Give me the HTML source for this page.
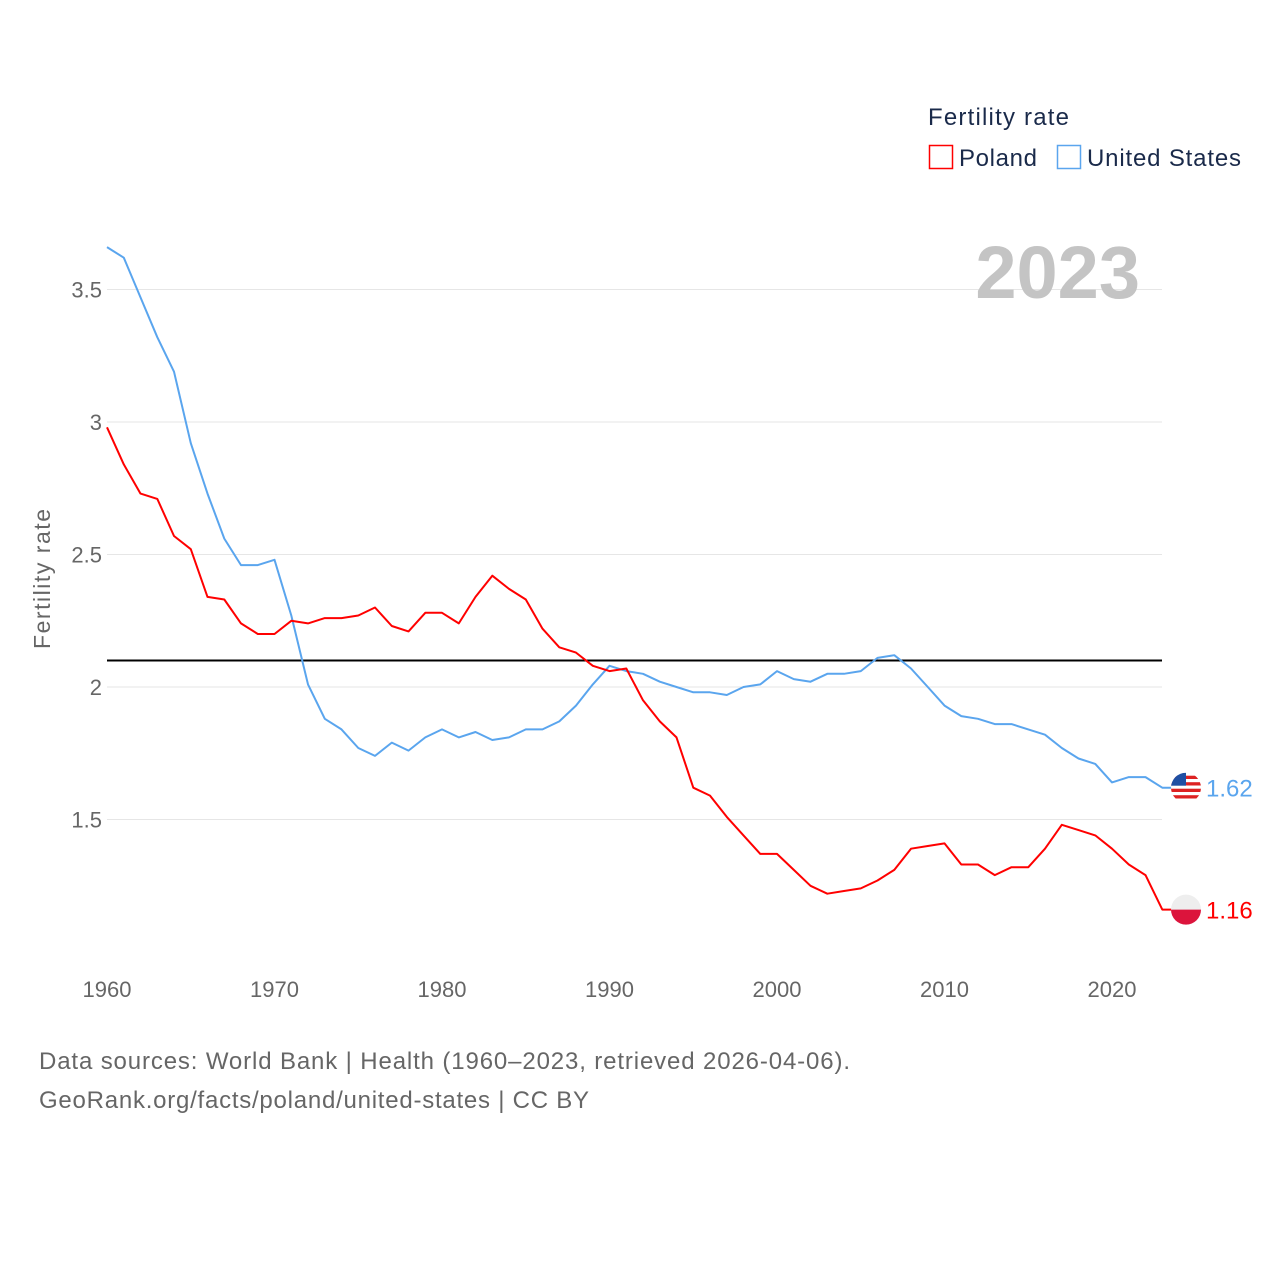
<!DOCTYPE html>
<html><head><meta charset="utf-8"><style>
body{margin:0;background:#fff;font-family:"Liberation Sans",sans-serif}
svg{display:block}
</style></head><body>
<svg id="chart" width="1280" height="1280" xmlns="http://www.w3.org/2000/svg">
<defs><clipPath id="usclip"><circle id="usclipc" cx="1186" cy="787" r="15"/></clipPath></defs>
<g id="grid"></g>
<g id="yticks"></g>
<g id="xticks"></g>
<text x="50" y="579" transform="rotate(-90 50 579)" text-anchor="middle" font-size="23" fill="#666" textLength="140">Fertility rate</text>
<text x="1140" y="298" text-anchor="end" font-size="74" font-weight="bold" fill="#c4c4c4">2023</text>
<g id="series"></g>
<g>
<text x="928" y="125" font-size="24" fill="#1a2a4a" textLength="141">Fertility rate</text>
<g><rect x="929.5" y="145.5" width="23" height="23" fill="none" stroke="#f00" stroke-width="1.5"/><text x="959" y="166" font-size="24" fill="#1a2a4a" textLength="78">Poland</text></g>
<g><rect x="1057.5" y="145.5" width="23" height="23" fill="none" stroke="#5aa5ee" stroke-width="1.5"/><text x="1087" y="166" font-size="24" fill="#1a2a4a" textLength="154">United States</text></g>
</g>
<text x="39" y="1069" font-size="24" fill="#666" textLength="811">Data sources: World Bank | Health (1960–2023, retrieved 2026-04-06).</text>
<text x="39" y="1108" font-size="24" fill="#666" textLength="550">GeoRank.org/facts/poland/united-states | CC BY</text>
</svg>
<script>
const years=[];for(let y=1960;y<=2023;y++)years.push(y);
const usValues=[3.66,3.62,3.47,3.32,3.19,2.92,2.73,2.56,2.46,2.46,2.48,2.27,2.01,1.88,1.84,1.77,1.74,1.79,1.76,1.81,1.84,1.81,1.83,1.80,1.81,1.84,1.84,1.87,1.93,2.01,2.08,2.06,2.05,2.02,2.00,1.98,1.98,1.97,2.00,2.01,2.06,2.03,2.02,2.05,2.05,2.06,2.11,2.12,2.07,2.00,1.93,1.89,1.88,1.86,1.86,1.84,1.82,1.77,1.73,1.71,1.64,1.66,1.66,1.62];
const plValues=[2.98,2.84,2.73,2.71,2.57,2.52,2.34,2.33,2.24,2.20,2.20,2.25,2.24,2.26,2.26,2.27,2.30,2.23,2.21,2.28,2.28,2.24,2.34,2.42,2.37,2.33,2.22,2.15,2.13,2.08,2.06,2.07,1.95,1.87,1.81,1.62,1.59,1.51,1.44,1.37,1.37,1.31,1.25,1.22,1.23,1.24,1.27,1.31,1.39,1.40,1.41,1.33,1.33,1.29,1.32,1.32,1.39,1.48,1.46,1.44,1.39,1.33,1.29,1.16];
const yTicks=[1.5,2,2.5,3,3.5];
const yTickLabels=["1.5","2","2.5","3","3.5"];
const xTicks=[1960,1970,1980,1990,2000,2010,2020];
const replacementRate=[2.1];
const NS="http://www.w3.org/2000/svg";
const X=y=>107+(y-1960)*16.75;
const Y=v=>687-(v-2)*265;
function el(t,a,p){const e=document.createElementNS(NS,t);for(const k in a)e.setAttribute(k,a[k]);document.getElementById(p).appendChild(e);return e;}
yTicks.forEach((v,i)=>{
 const l=el('line',{x1:107,x2:1162,y1:Y(v),y2:Y(v),stroke:'#e6e6e6','stroke-width':1},'grid');
 
 
 const t=el('text',{x:102,y:Y(v)+8,'text-anchor':'end','font-size':22,fill:'#666'},'yticks');
 t.textContent=yTickLabels[i];
 
 
});
xTicks.forEach(v=>{
 const t=el('text',{x:X(v),y:997,'text-anchor':'middle','font-size':22,fill:'#666'},'xticks');
 t.textContent=v;
 
 
});
const ref=el('line',{x1:107,x2:1162,y1:Y(replacementRate[0]),y2:Y(replacementRate[0]),stroke:'#000','stroke-width':2},'series');


function series(vals,color,name,flag){
 const pts=vals.map((v,i)=>X(years[i]).toFixed(1)+','+Y(v).toFixed(1));
 const last=vals[vals.length-1];
 pts.push('1186,'+Y(last).toFixed(1));
 const p=el('polyline',{points:pts.join(' '),fill:'none',stroke:color,'stroke-width':2,'stroke-linejoin':'round'},'series');
 
 
 const cy=Y(last);
 const g=el('g',{},'series');
 
 
 g.id=name+'-flag';
 if(flag==='pl'){
  el('circle',{cx:1186,cy:cy,r:15,fill:'#eee'},g.id);
  el('path',{d:`M1171 ${cy} A15 15 0 0 0 1201 ${cy} Z`,fill:'#dc143c'},g.id);
 }else{
  document.getElementById('usclipc').setAttribute('cy',cy);
  g.setAttribute('clip-path','url(#usclip)');
  el('circle',{cx:1186,cy:cy,r:15,fill:'#fff'},g.id);
  for(let k=0;k<4;k++)el('rect',{x:1171,y:cy-12+k*6.5,width:30,height:3.3,fill:'#d22'},g.id);
  el('rect',{x:1171,y:cy-15,width:15,height:13,fill:'#1f4fa3'},g.id);
 }
 const t=el('text',{x:1206,y:cy+9,'font-size':24,fill:color},'series');
 t.textContent=last.toFixed(2);
 
 
}
series(usValues,'#5aa5ee','united-states','us');
series(plValues,'#f00','poland','pl');
</script>
</body></html>
